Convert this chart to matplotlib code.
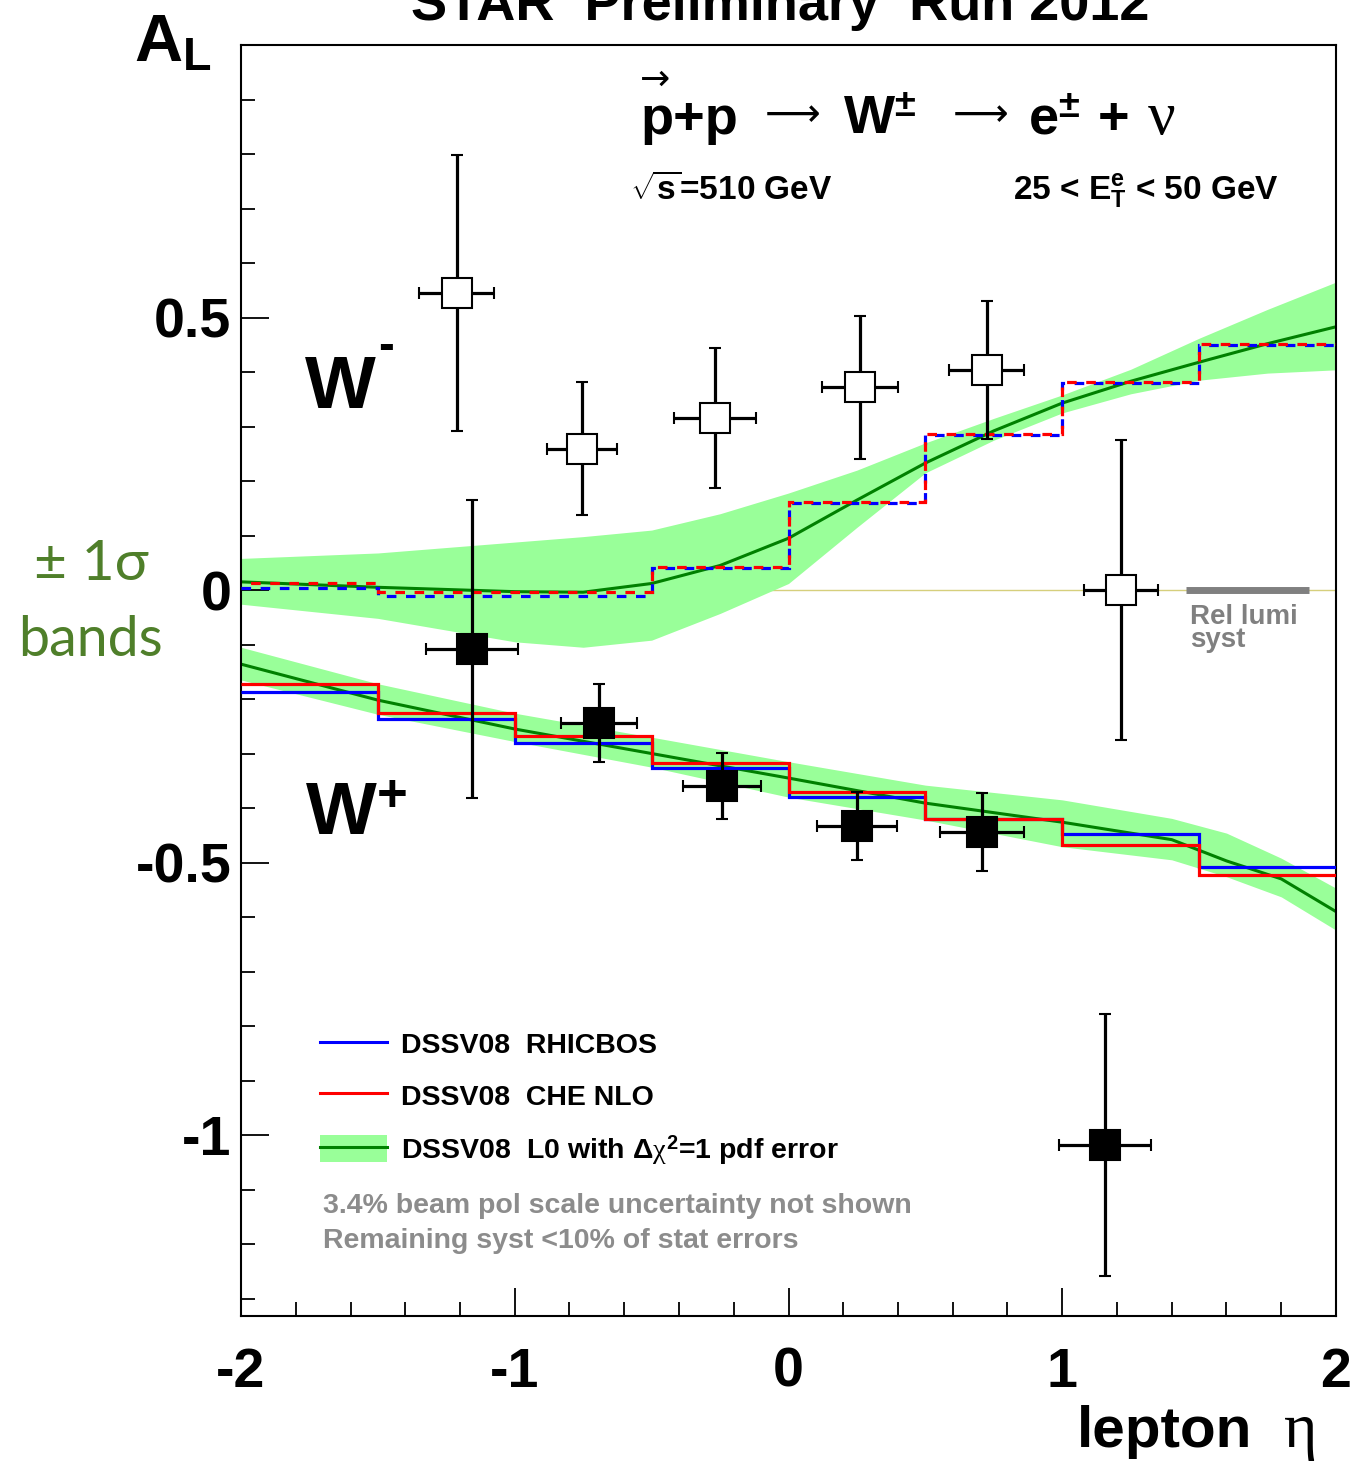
import numpy as np
import matplotlib.pyplot as plt
from matplotlib.lines import Line2D
from matplotlib.patches import Patch

plt.rcParams['font.family'] = ['Liberation Sans', 'DejaVu Sans']
plt.rcParams['font.weight'] = 'bold'
plt.rcParams['mathtext.fontset'] = 'custom'
plt.rcParams['mathtext.rm'] = 'Liberation Sans:bold'
plt.rcParams['mathtext.bf'] = 'Liberation Sans:bold'
plt.rcParams['mathtext.it'] = 'Liberation Serif:weight=normal'
plt.rcParams['mathtext.sf'] = 'Liberation Sans:bold'

# --- data -------------------------------------------------------------------
eta_edges = [-2.0, -1.5, -1.0, -0.5, 0.0, 0.5, 1.0, 1.5, 2.0]

# W- theory steps (dashed)
wm_rhicbos = [0.004, -0.011, -0.011, 0.040, 0.160, 0.284, 0.380, 0.450]
wm_che = [0.013, -0.003, -0.003, 0.043, 0.162, 0.286, 0.382, 0.452]
# W+ theory steps (solid)
wp_rhicbos = [-0.187, -0.237, -0.281, -0.327, -0.380, -0.420, -0.448, -0.508]
wp_che = [-0.173, -0.226, -0.268, -0.317, -0.371, -0.420, -0.468, -0.523]

# DSSV08 LO curves with pdf error bands
wm_eta = [-2.0, -1.5, -1.0, -0.75, -0.5, -0.25, 0.0, 0.25, 0.5, 0.75, 1.0, 1.25, 1.5, 1.75, 2.0]
wm_lo = [0.015, 0.005, -0.003, -0.004, 0.012, 0.045, 0.095, 0.165, 0.233, 0.292, 0.343, 0.383, 0.418, 0.452, 0.483]
wm_lo_hi = [0.058, 0.068, 0.088, 0.098, 0.110, 0.140, 0.178, 0.220, 0.270, 0.315, 0.358, 0.405, 0.462, 0.515, 0.565]
wm_lo_low = [-0.026, -0.052, -0.095, -0.105, -0.092, -0.043, 0.012, 0.115, 0.215, 0.275, 0.325, 0.360, 0.385, 0.398, 0.404]

wp_eta = [-2.0, -1.5, -1.0, -0.5, 0.0, 0.5, 1.0, 1.4, 1.6, 1.8, 2.0]
wp_lo = [-0.136, -0.202, -0.255, -0.300, -0.345, -0.391, -0.426, -0.458, -0.497, -0.530, -0.590]
wp_lo_hi = [-0.105, -0.172, -0.226, -0.270, -0.315, -0.358, -0.385, -0.419, -0.446, -0.492, -0.547]
wp_lo_low = [-0.165, -0.228, -0.278, -0.325, -0.380, -0.422, -0.471, -0.495, -0.526, -0.563, -0.624]

# measured points
wm_eta_pts = [-1.211, -0.754, -0.268, 0.261, 0.725, 1.215]
wm_al = [0.545, 0.259, 0.316, 0.372, 0.404, 0.000]
wm_yerr = [0.254, 0.122, 0.128, 0.131, 0.126, 0.275]
wm_xerr = [0.137, 0.128, 0.150, 0.140, 0.137, 0.135]

wp_eta_pts = [-1.156, -0.692, -0.243, 0.250, 0.707, 1.156]
wp_al = [-0.108, -0.244, -0.360, -0.433, -0.444, -1.018]
wp_yerr = [0.273, 0.071, 0.061, 0.062, 0.072, 0.241]
wp_xerr = [0.168, 0.139, 0.141, 0.146, 0.152, 0.168]

rel_lumi_eta = [1.452, 1.901]
rel_lumi_al = [0.0, 0.0]

x_ticks = [-2, -1, 0, 1, 2]
x_tick_labels = ['-2', '-1', '0', '1', '2']
y_ticks = [-1.0, -0.5, 0.0, 0.5]
y_tick_labels = ['-1', '-0.5', '0', '0.5']

legend_labels = ['DSSV08  RHICBOS', 'DSSV08  CHE NLO',
                 'DSSV08  L0 with $\\mathit{\\Delta\\chi}^{2}$=1 pdf error']

W, H = 1353, 1462


def fx(px):
    return px / W


def fy(py):
    return 1 - py / H


band_col = '#99ff99'
curve_col = '#008000'

fig = plt.figure(figsize=(W / 100, H / 100), dpi=100)
ax = fig.add_axes([fx(241), fy(1316), (1336 - 241) / W, (1316 - 45) / H])
ax.set_xlim(-2, 2)
ax.set_ylim(-1.332, 1.0)

ax.axhline(0, color='#d6cf7c', lw=1.0, zorder=0.5)

# bands + central curves
ax.fill_between(wm_eta, wm_lo_low, wm_lo_hi, color=band_col, lw=0, zorder=1)
ax.fill_between(wp_eta, wp_lo_low, wp_lo_hi, color=band_col, lw=0, zorder=1)
ax.plot(wm_eta, wm_lo, color=curve_col, lw=2.2, zorder=2)
ax.plot(wp_eta, wp_lo, color=curve_col, lw=2.2, zorder=2)

# step predictions
ax.stairs(wm_rhicbos, eta_edges, color='blue', lw=2.3, ls=(0, (3, 3)), baseline=None, zorder=3)
ax.stairs(wm_che, eta_edges, color='red', lw=2.3, ls=(3, (3, 3)), baseline=None, zorder=3)
ax.stairs(wp_rhicbos, eta_edges, color='blue', lw=2.3, baseline=None, zorder=3)
ax.stairs(wp_che, eta_edges, color='red', lw=2.3, baseline=None, zorder=3)

# rel lumi systematic
ax.plot(rel_lumi_eta, rel_lumi_al, color='#808080', lw=5.0, solid_capstyle='butt', zorder=3)

# data
ax.errorbar(wm_eta_pts, wm_al, yerr=wm_yerr, xerr=wm_xerr, fmt='s', ms=21,
            mfc='white', mec='black', mew=1.5, ecolor='black', elinewidth=2.3,
            capsize=4.5, capthick=2.3, zorder=5)
ax.errorbar(wp_eta_pts, wp_al, yerr=wp_yerr, xerr=wp_xerr, fmt='s', ms=21,
            mfc='black', mec='black', mew=1.5, ecolor='black', elinewidth=2.3,
            capsize=4.5, capthick=2.3, zorder=5)

# axes styling
for s in ax.spines.values():
    s.set_linewidth(1.5)
ax.set_xticks(x_ticks)
ax.set_xticklabels(x_tick_labels)
ax.set_yticks(y_ticks)
ax.set_yticklabels(y_tick_labels)
ax.set_xticks(np.arange(-2, 2.01, 0.2), minor=True)
ax.set_yticks(np.arange(-1.3, 1.0, 0.1), minor=True)
ax.tick_params(which='both', direction='in', top=False, right=False, width=1.3)
ax.tick_params(which='major', length=20, labelsize=40)
ax.tick_params(which='minor', length=10)
ax.tick_params(axis='x', which='major', pad=22)
ax.tick_params(axis='y', which='major', pad=7)

# in-plot labels
ax.text(-1.766, 0.334, 'W', fontsize=54, va='baseline')
ax.text(-1.50, 0.446, '-', fontsize=34, va='center')
ax.text(-1.766, -0.450, 'W$^{+}$', fontsize=54, va='baseline')
ax.text(1.467, -0.025, 'Rel lumi\nsyst', fontsize=20, color='#808080',
        va='top', linespacing=0.85)
ax.text(-1.70, -1.13, '3.4% beam pol scale uncertainty not shown',
        fontsize=20.5, color='#8c8c8c', va='center')
ax.text(-1.70, -1.195, 'Remaining syst <10% of stat errors',
        fontsize=20.5, color='#8c8c8c', va='center')

handles = [Line2D([], [], color='blue', lw=2.2),
           Line2D([], [], color='red', lw=2.2),
           (Patch(color=band_col, lw=0), Line2D([], [], color=curve_col, lw=2.2))]
ax.legend(handles, legend_labels, loc='upper left',
          bbox_to_anchor=((320 - 241) / 1095, (1316 - 1030) / 1271),
          frameon=False, fontsize=20.5, handlelength=2.35, handleheight=1.1,
          handletextpad=0.48, labelspacing=0.78, borderpad=0, borderaxespad=0)

# header texts
fig.text(0.577, fy(20), 'STAR  Preliminary  Run 2012', fontsize=39, ha='center', va='baseline')
fig.text(fx(134), fy(62), 'A$_{\\mathrm{L}}$', fontsize=48, va='baseline')
fig.text(fx(640), fy(134), 'p+p', fontsize=39, va='baseline')
fig.text(fx(640), fy(90), '\u2192', fontsize=26, va='baseline', family='DejaVu Sans', weight='normal')
fig.text(fx(765), fy(115), '\u27f6', fontsize=28, va='center', family='DejaVu Sans', weight='normal')
fig.text(fx(843), fy(134), 'W$^{\\pm}$', fontsize=39, va='baseline')
fig.text(fx(953), fy(115), '\u27f6', fontsize=28, va='center', family='DejaVu Sans', weight='normal')
fig.text(fx(1028), fy(134), 'e$^{\\pm}$', fontsize=39, va='baseline')
fig.text(fx(1098), fy(134), '+', fontsize=39, va='baseline')
fig.text(fx(1148), fy(134), '\u03bd', fontsize=44, va='baseline', family='Liberation Serif', weight='normal')
fig.text(fx(630), fy(200), '$\\sqrt{\\mathrm{s}}$=510 GeV', fontsize=24, va='baseline')
fig.text(fx(1013), fy(200), '25 < E$_{\\mathrm{T}}^{\\mathrm{e}}$ < 50 GeV', fontsize=24, va='baseline')

fig.text(fx(1077), fy(1447), 'lepton', fontsize=42, va='baseline')
fig.text(fx(1284), fy(1447), '\u03b7', fontsize=46, va='baseline', family='Liberation Serif', weight='normal')

green_txt = '#4f7f2a'
fig.text(fx(91), fy(565), '\u00b1 1\u03c3', fontsize=41, color=green_txt, ha='center',
         va='center', family=['Lato', 'DejaVu Sans'], weight='normal')
fig.text(fx(90), fy(640), 'bands', fontsize=40, color=green_txt, ha='center',
         va='center', family=['Lato', 'DejaVu Sans'], weight='normal')

fig.savefig('out.png', dpi=100)
